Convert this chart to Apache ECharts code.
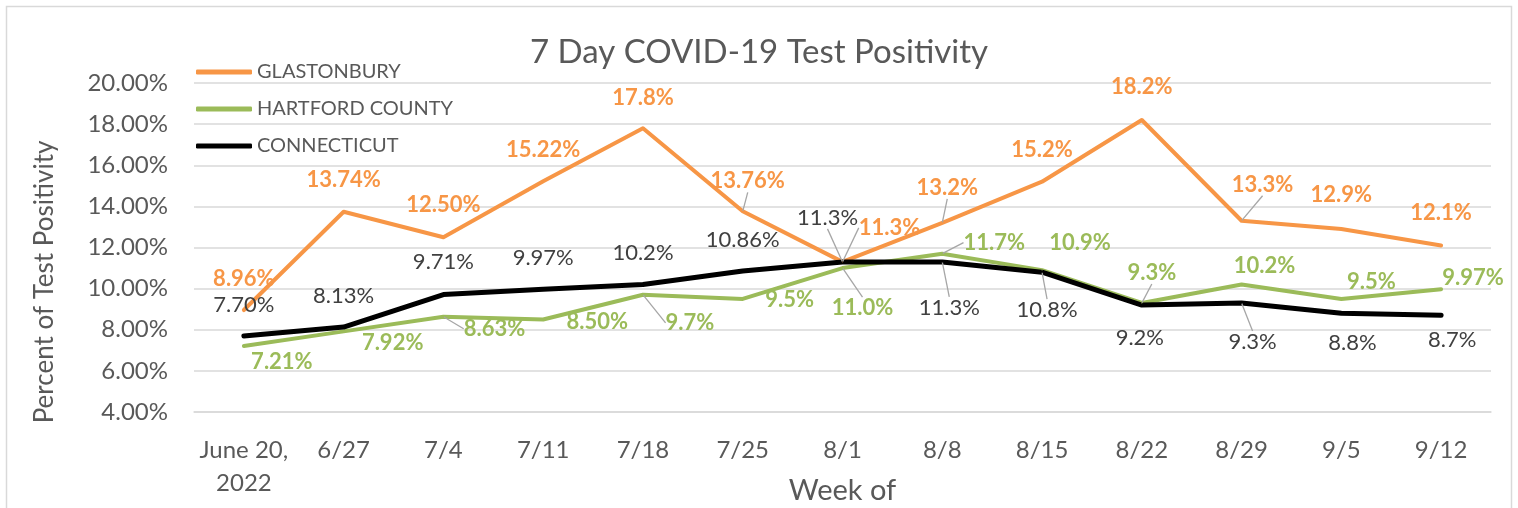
<!DOCTYPE html>
<html>
<head>
<meta charset="utf-8">
<script src="https://cdn.jsdelivr.net/npm/echarts@6/dist/echarts.min.js"></script>
<style>
  html, body { margin: 0; padding: 0; background: #fff; }
  #chart { width: 1518px; height: 508px; }
</style>
</head>
<body>
<div id="chart"></div>
<script>
// data (percent values, kept as text so the labels keep their decimals)
var weeks = ['June 20,\n2022', '6/27', '7/4', '7/11', '7/18', '7/25', '8/1', '8/8', '8/15', '8/22', '8/29', '9/5', '9/12'];
var glastonbury = ['8.96', '13.74', '12.50', '15.22', '17.8', '13.76', '11.3', '13.2', '15.2', '18.2', '13.3', '12.9', '12.1'];
var hartfordCounty = ['7.21', '7.92', '8.63', '8.50', '9.7', '9.5', '11.0', '11.7', '10.9', '9.3', '10.2', '9.5', '9.97'];
var connecticut = ['7.70', '8.13', '9.71', '9.97', '10.2', '10.86', '11.3', '11.3', '10.8', '9.2', '9.3', '8.8', '8.7'];
var yTicks = { min: 4, max: 20, interval: 2 };

var chart = echarts.init(document.getElementById('chart'));
var font = 'Lato, "Noto Sans", sans-serif';

// where each data label sits relative to its point (like the Excel layout)
var labelOffsets = {
    glastonbury: [[0, -31], [0, -32], [0, -32], [0, -31], [0, -30], [5, -30], [47, -34], [5, -35], [0, -32], [0, -33], [21, -36], [0, -34], [0, -33]],
    hartford: [[38, 16], [49, 12], [51, 12], [54, 2], [47, 28], [47, 1], [20, 40], [52, -11], [38, -27], [10, -30], [23, -19], [30, -17], [32, -11]],
    connecticut: [[0, -31], [0, -31], [0, -33], [0, -31], [0, -32], [0, -31], [-15, -44], [7, 46], [5, 38], [-2, 33], [11, 39], [11, 30], [11, 25]]
};
var leaders = {
    glastonbury: [5, 6, 7, 10],
    hartford: [2, 4, 6, 7, 9],
    connecticut: [6, 7, 8, 10]
};

function buildData(values, key) {
    return values.map(function (s, i) {
        return {
            value: Number(s),
            label: { formatter: s + '%' },
            labelLine: { show: leaders[key].indexOf(i) >= 0 }
        };
    });
}

function makeSeries(name, values, key, color, labelColor, bold, width) {
    return {
        name: name,
        type: 'line',
        data: buildData(values, key),
        symbol: 'circle',
        symbolSize: 1,
        showSymbol: true,
        lineStyle: { color: color, width: width, cap: 'round', join: 'round' },
        itemStyle: { color: color },
        label: {
            show: true,
            position: 'inside',
            color: labelColor,
            fontFamily: font,
            fontSize: 22,
            fontWeight: bold ? 'bold' : 'normal'
        },
        labelLine: {
            lineStyle: { color: '#A6A6A6', width: 1.3 }
        },
        labelLayout: function (params) {
            var off = labelOffsets[key][params.dataIndex];
            var cx = params.rect.x + params.rect.width / 2;
            var cy = params.rect.y + params.rect.height / 2;
            return { x: cx + off[0], y: cy + off[1], align: 'center', verticalAlign: 'middle' };
        },
        emphasis: { disabled: true },
        animation: false
    };
}

var option = {
    animation: false,
    title: {
        text: '7 Day COVID-19 Test Positivity',
        left: 'center',
        top: 31,
        textStyle: { fontFamily: font, fontSize: 33, fontWeight: 'normal', color: '#595959' }
    },
    legend: {
        orient: 'vertical',
        left: 191,
        top: 57,
        itemWidth: 56,
        itemHeight: 5,
        itemGap: 17,
        icon: 'roundRect',
        data: ['GLASTONBURY', 'HARTFORD COUNTY', 'CONNECTICUT'],
        textStyle: { fontFamily: font, fontSize: 20, color: '#595959' }
    },
    grid: { left: 194, right: 27, top: 83, bottom: 96, outerBoundsMode: 'none' },
    xAxis: {
        type: 'category',
        data: weeks,
        boundaryGap: true,
        name: 'Week of',
        nameLocation: 'middle',
        nameGap: 64,
        nameMoveOverlap: false,
        nameTextStyle: { fontFamily: font, fontSize: 29, color: '#595959' },
        axisLine: { show: true, lineStyle: { color: '#D9D9D9', width: 1.5 } },
        axisTick: { show: false },
        axisLabel: { fontFamily: font, fontSize: 24, color: '#595959', margin: 22, lineHeight: 33, interval: 0 }
    },
    yAxis: {
        type: 'value',
        min: yTicks.min,
        max: yTicks.max,
        interval: yTicks.interval,
        axisLine: { show: false },
        axisTick: { show: false },
        splitLine: { lineStyle: { color: '#D9D9D9', width: 1.5 } },
        axisLabel: {
            fontFamily: font, fontSize: 24, color: '#595959', margin: 26,
            formatter: function (v) { return v.toFixed(2) + '%'; }
        }
    },
    graphic: [
        {
            type: 'rect',
            shape: { x: 6.5, y: 6.5, width: 1505, height: 510 },
            style: { fill: null, stroke: '#D9D9D9', lineWidth: 1.5 },
            silent: true
        },
        {
            type: 'text',
            x: 45,
            y: 282,
            rotation: Math.PI / 2,
            style: {
                text: 'Percent of Test Positivity',
                fontFamily: font,
                fontSize: 26,
                fill: '#595959',
                align: 'center',
                verticalAlign: 'middle'
            },
            silent: true
        }
    ],
    series: [
        makeSeries('GLASTONBURY', glastonbury, 'glastonbury', '#F79646', '#F79646', true, 4),
        makeSeries('HARTFORD COUNTY', hartfordCounty, 'hartford', '#9BBB59', '#9BBB59', true, 4),
        makeSeries('CONNECTICUT', connecticut, 'connecticut', '#000000', '#404040', false, 5)
    ]
};
chart.setOption(option);

window.onresize = chart.resize;
</script>
</body>
</html>
